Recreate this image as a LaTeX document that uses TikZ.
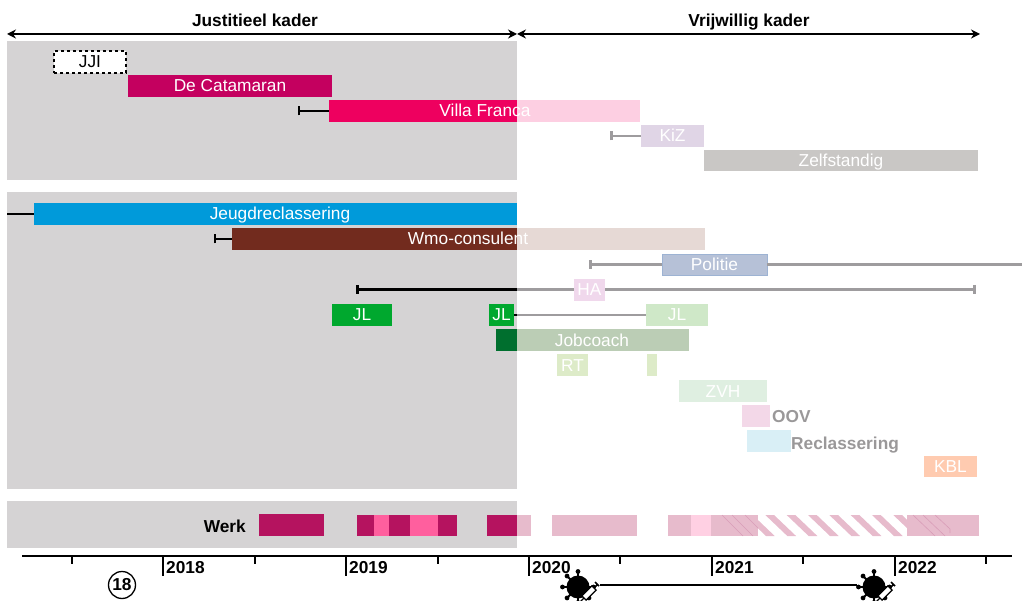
\documentclass[tikz,border=0pt]{standalone}
\usepackage{fontspec}
\setmainfont{Liberation Sans}
\usetikzlibrary{arrows.meta}
\definecolor{panel}{HTML}{D5D3D4}
\definecolor{catam}{HTML}{C4005F}
\definecolor{villa}{HTML}{EE005F}
\definecolor{villap}{HTML}{FDCFE2}
\definecolor{kiz}{HTML}{E0D5E6}
\definecolor{zelf}{HTML}{C9C7C5}
\definecolor{jeugd}{HTML}{009ADA}
\definecolor{wmo}{HTML}{722B1E}
\definecolor{wmop}{HTML}{E6D9D5}
\definecolor{pol}{HTML}{B6C1D7}
\definecolor{polb}{HTML}{9DB3D3}
\definecolor{ha}{HTML}{F0D8EC}
\definecolor{jl}{HTML}{00A82E}
\definecolor{jlp}{HTML}{CFE8C8}
\definecolor{jobd}{HTML}{006F2E}
\definecolor{jobp}{HTML}{BBCDB5}
\definecolor{rt}{HTML}{DDEBC8}
\definecolor{zvh}{HTML}{DFEFE1}
\definecolor{oov}{HTML}{F3D8E8}
\definecolor{recl}{HTML}{D9EFF6}
\definecolor{kbl}{HTML}{FFCBB0}
\definecolor{werkd}{HTML}{B5135F}
\definecolor{werkl}{HTML}{FF5F9E}
\definecolor{werkp}{HTML}{E7BBCC}
\definecolor{werkq}{HTML}{FFD0E3}
\definecolor{werkline}{HTML}{D99DB8}
\definecolor{gline}{HTML}{9E9C9E}
\definecolor{gtext}{HTML}{9A9899}
\tikzset{
  x=1pt,y=-1pt,
  barnode/.style={anchor=north west,inner sep=0pt,outer sep=0pt,font=\fontsize{17.3}{19}\selectfont,text=white,text height=15pt,text depth=3pt},
  barlabel/.style={inner sep=0pt,font=\fontsize{17.3}{19}\selectfont,text=white,text height=15pt,text depth=3pt},
  boldlabel/.style={inner sep=0pt,font=\fontsize{17.3}{19}\selectfont\bfseries,text height=15pt,text depth=3pt},
  greylabel/.style={boldlabel,anchor=west,text=gtext},
  whisk/.style={line width=2.2pt,black},
  gwhisk/.style={line width=2.6pt,gline},
  kader/.style={line width=2.2pt,{Stealth[length=9pt,width=9pt]}-{Stealth[length=9pt,width=9pt]}},
  axisline/.style={line width=2.2pt,black},
  minortick/.style={line width=1.6pt,black},
  majortick/.style={line width=1.6pt,black},
  hatchline/.style={line width=.6pt,werkline},
}
\newcommand{\tbar}[7][]{%
  \pgfmathsetmacro{\tw}{#4-#3}\pgfmathsetmacro{\th}{#6-#5}%
  \node[barnode,fill=#7,minimum width=\tw pt,minimum height=\th pt,#1] (#2) at (#3,#5) {};}
\newcommand{\vir}[3]{%
  \node[circle,fill=black,minimum size=23pt,inner sep=0pt] (#1) at (#2,#3) {};
  \foreach \a in {0,90,135,180,225,270,315}{
    \draw[line width=1.8pt] (#1.center) -- ++(\a:15.5pt);
    \fill (#1.center) ++(\a:15.5pt) circle (2.4pt);
  }
  \begin{scope}[shift={(#2,#3)}]
    \draw[line width=1.3pt,fill=white] (8.1,13.1) -- (3.9,8.9) -- (13.9,-1.1) -- (18.1,3.1) -- cycle;
    \draw[line width=1.6pt] (16,1) -- (19,-2) (17,-5) -- (21,-1);
    \draw[line width=1.3pt] (6,11) -- (2,15);
  \end{scope}}
\begin{document}
\begin{tikzpicture}
\useasboundingbox (0,0) rectangle (1022,601);
\clip (0,0) rectangle (1022,601);
% panels
\tbar{panelA}{7}{517}{41}{180}{panel}
\tbar{panelB}{7}{517}{192}{489}{panel}
\tbar{panelC}{7}{517}{501}{548}{panel}
% headers
\node[boldlabel] (lj) at (255,21) {Justitieel kader};
\node[boldlabel] (lv) at (749,21) {Vrijwillig kader};
\coordinate (ka) at (7,34); \coordinate (kb) at (517,34); \coordinate (kc) at (980,34);
\draw[kader] (ka) -- (kb);
\draw[kader] (kb) -- (kc);
% bars row group 1
\node[barnode,text=black,draw=black,dashed,line width=1.3pt,fill=white,minimum width=72pt,minimum height=22pt] (jji) at (54,51) {JJI};
\tbar{cat}{128}{332}{75}{97}{catam}
\node[barlabel] at (cat) {De Catamaran};
\tbar{villaA}{329}{517}{100}{122}{villa}
\tbar{villaB}{517}{640}{100}{122}{villap}
\node[barlabel] (lvilla) at (485,111) {Villa Franca};
\coordinate (wv) at (298,111);
\draw[whisk,{Bar[width=9pt,length=2pt]}-] (wv) -- (villaA.west);
\tbar{kizb}{641}{704}{125}{147}{kiz}
\node[barlabel] at (kizb) {KiZ};
\coordinate (wk) at (610,136);
\draw[gwhisk,{Bar[width=9pt,length=2.4pt]}-] (wk) -- (kizb.west);
\tbar{zelfb}{704}{978}{150}{171}{zelf}
\node[barlabel] (lzelf) at (841,161) {Zelfstandig};
% group 2
\tbar{jeugdb}{34}{517}{203}{225}{jeugd}
\node[barlabel] (ljeugd) at (280,214) {Jeugdreclassering};
\coordinate (wj) at (7,214);
\draw[whisk] (wj) -- (jeugdb.west);
\tbar{wmoA}{232}{517}{228}{250}{wmo}
\tbar{wmoB}{517}{705}{228}{250}{wmop}
\node[barlabel] (lwmo) at (468,239) {Wmo-consulent};
\coordinate (wm) at (214,239);
\draw[whisk,{Bar[width=9pt,length=2pt]}-] (wm) -- (wmoA.west);
\tbar[draw=polb,line width=.5pt]{polbar}{662}{767}{254}{275}{pol}
\node[barlabel] at (polbar) {Politie};
\coordinate (wp) at (589,264.5); \coordinate (wq) at (1024,264.5);
\draw[gwhisk,{Bar[width=9pt,length=2.4pt]}-] (wp) -- (polbar.west);
\draw[gwhisk] (polbar.east) -- (wq);
\tbar{hab}{574}{605}{279}{301}{ha}
\node[barlabel] at (hab) {HA};
\coordinate (ha1) at (356,289.5); \coordinate (ha2) at (517,289.5); \coordinate (ha3) at (976,289.5);
\draw[gwhisk] (ha2) -- (ha3 -| hab.west);
\draw[whisk,line width=2.6pt,{Bar[width=9pt,length=2pt]}-] (ha1) -- (ha2);
\draw[gwhisk,-{Bar[width=9pt,length=2.4pt]}] (ha3 -| hab.east) -- (ha3);
\tbar{jla}{332}{392}{304}{326}{jl}
\node[barlabel] at (jla) {JL};
\tbar{jlb}{489}{514}{304}{326}{jl}
\node[barlabel] at (jlb) {JL};
\tbar{jlc}{646}{708}{304}{326}{jlp}
\node[barlabel] at (jlc) {JL};
\draw[gwhisk] (jlb.east) -- (jlc.west);
\fill (514,313.7) rectangle (517,316.3);
\tbar{jobA}{496}{517}{329}{351}{jobd}
\tbar{jobB}{517}{689}{329}{351}{jobp}
\node[barlabel] (ljob) at (592,340) {Jobcoach};
\tbar{rta}{557}{588}{354}{376}{rt}
\node[barlabel] at (rta) {RT};
\tbar{rtb}{647}{657}{354}{376}{rt}
\tbar{zvhb}{679}{767}{380}{402}{zvh}
\node[barlabel] at (zvhb) {ZVH};
\tbar{oovb}{742}{770}{405}{427}{oov}
\node[greylabel] (loov) at (772,416) {OOV};
\tbar{reclb}{747}{791}{430}{452}{recl}
\node[greylabel] (lrecl) at (791,443) {Reclassering};
\tbar{kblb}{924}{977}{456}{477}{kbl}
\node[barlabel] at (kblb) {KBL};
% Werk
\node[boldlabel,anchor=east] (lwerk) at (246,526) {Werk};
\tbar{w1}{259}{324}{514}{536}{werkd}
\tbar{w2}{357}{374}{515}{536}{werkd}
\tbar{w3}{374}{389}{515}{536}{werkl}
\tbar{w4}{389}{410}{515}{536}{werkd}
\tbar{w5}{410}{438}{515}{536}{werkl}
\tbar{w6}{438}{457}{515}{536}{werkd}
\tbar{w7}{487}{517}{515}{536}{werkd}
\tbar{w8}{517}{531}{515}{536}{werkp}
\tbar{w9}{552}{637}{515}{536}{werkp}
\tbar{w10}{668}{691}{515}{536}{werkp}
\tbar{w11}{691}{711}{515}{536}{werkq}
\tbar{w12}{711}{758}{515}{536}{werkp}
\tbar{w13}{907}{979}{515}{536}{werkp}
\begin{scope}
  \clip (758,515) rectangle (907,536);
  \foreach \k in {0,...,7}{
    \pgfmathsetmacro{\xx}{744+21.33*\k}
    \fill[werkp] (\xx,515) -- (\xx+8.7,515) -- (\xx+30.7,536) -- (\xx+22,536) -- cycle;
  }
\end{scope}
\draw[hatchline] (722,515) -- (743,536) (732,515) -- (753,536) (745,515) -- (758,528);
\draw[hatchline] (913,515) -- (935,536) (923,515) -- (945,536) (935,515) -- (950,529) -- (950,533);
% axis
\coordinate (ax0) at (22,556); \coordinate (ax1) at (1012,556);
\draw[axisline] (ax0) -- (ax1);
\foreach \x in {72,255,438,620,803,986} \draw[minortick] (\x,556) -- (\x,564);
\foreach \x/\y in {163/2018,346/2019,529/2020,712/2021,895/2022}{
  \draw[majortick] (\x,556) -- (\x,576);
  \node[boldlabel,anchor=west] at (\x+3,567) {\y};
}
\node[circle,draw=black,line width=1.3pt,minimum size=27pt,inner sep=0pt,font=\fontsize{17.3}{19}\selectfont\bfseries] (age) at (122,585) {18};
% virus
\vir{va}{578}{587}
\vir{vb}{874}{587}
\coordinate (la) at (600,585); \coordinate (lb) at (857,585);
\draw[axisline] (la) -- (lb);
\end{tikzpicture}
\end{document}
